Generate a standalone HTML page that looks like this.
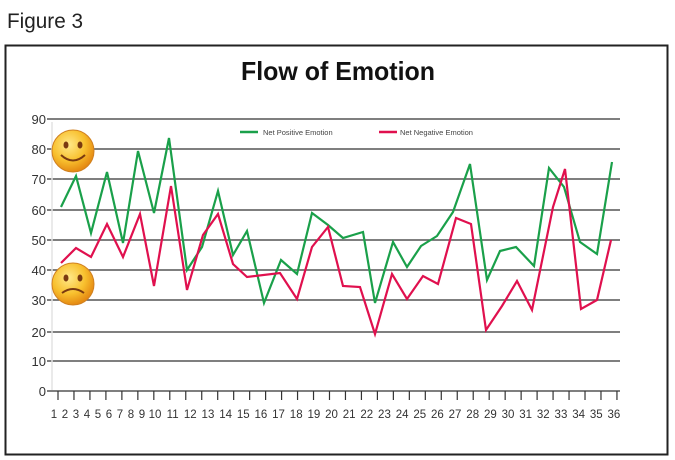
<!DOCTYPE html>
<html><head><meta charset="utf-8"><style>
html,body{margin:0;padding:0;background:#fff;width:675px;height:460px;overflow:hidden}
</style></head><body>
<svg width="675" height="460" xmlns="http://www.w3.org/2000/svg" font-family="Liberation Sans, DejaVu Sans, sans-serif">
<defs>
<radialGradient id="sm" cx="40%" cy="35%" r="65%"><stop offset="0" stop-color="#ffe98a"/><stop offset="0.6" stop-color="#f8c02e"/><stop offset="1" stop-color="#e58a12"/></radialGradient>
</defs>
<text x="7" y="28" font-size="21" fill="#222" textLength="76" lengthAdjust="spacingAndGlyphs">Figure 3</text>
<rect x="5.5" y="45.5" width="662" height="409" fill="none" stroke="#222" stroke-width="2"/>
<text x="241" y="80" font-size="26" font-weight="bold" fill="#111" textLength="194" lengthAdjust="spacingAndGlyphs">Flow of Emotion</text>
<g stroke="#555" stroke-width="1.5">
<line x1="47" y1="119" x2="620" y2="119"/>
<line x1="47" y1="149" x2="620" y2="149"/>
<line x1="47" y1="179" x2="620" y2="179"/>
<line x1="47" y1="210" x2="620" y2="210"/>
<line x1="47" y1="240" x2="620" y2="240"/>
<line x1="47" y1="270" x2="620" y2="270"/>
<line x1="47" y1="300" x2="620" y2="300"/>
<line x1="47" y1="332" x2="620" y2="332"/>
<line x1="47" y1="361" x2="620" y2="361"/>
<line x1="47" y1="391" x2="620" y2="391"/>
</g>
<line x1="52" y1="122" x2="52" y2="390" stroke="#e4e4e4" stroke-width="1.5"/>
<g font-size="13" fill="#333" text-anchor="end">
<text x="46" y="124">90</text><text x="46" y="154">80</text><text x="46" y="184">70</text>
<text x="46" y="215">60</text><text x="46" y="245">50</text><text x="46" y="275">40</text>
<text x="46" y="305">30</text><text x="46" y="337">20</text><text x="46" y="366">10</text>
<text x="46" y="396">0</text>
</g>
<g id="ticks" stroke="#333" stroke-width="1.2"></g>
<g id="lbl" font-size="11.5" fill="#333" text-anchor="middle"></g>
<polyline fill="none" stroke="#1aa04a" stroke-width="2.2" stroke-linejoin="miter" points="61,207 76,176 91,233 107,172 123,243 138,151 154,213 169,138 187,270 202,247 218,191 233,255 247,231 264,303 281,260 297,274 312,213 328,225 343,238 363,232 375,303 393,242 407,267 421,246 437,236 453,212 470,164 487,280 500,251 516,247 534,266 549,168 564,187 580,242 597,254 612,162"/>
<polyline fill="none" stroke="#e0104e" stroke-width="2.2" points="61,263 76,248 91,257 107,224 123,257 140,214 154,286 171,186 187,290 203,235 218,214 233,264 247,277 280,273 297,299 312,247 328,227 343,286 360,287 375,334 392,274 407,299 423,276 438,284 456,218 471,224 486,330 502,306 517,281 532,310 553,207 565,169 581,309 597,300 611,240"/>
<line x1="240" y1="132" x2="258" y2="132" stroke="#1aa04a" stroke-width="2.5"/>
<text x="263" y="135" font-size="7.5" fill="#444">Net Positive Emotion</text>
<line x1="379" y1="132" x2="397" y2="132" stroke="#e0104e" stroke-width="2.5"/>
<text x="400" y="135" font-size="7.5" fill="#444">Net Negative Emotion</text>
<g>
<circle cx="73" cy="151" r="21" fill="url(#sm)" stroke="#d08020" stroke-width="1"/>
<ellipse cx="66" cy="145" rx="2.5" ry="3.5" fill="#7a3a10"/><ellipse cx="80" cy="145" rx="2.5" ry="3.5" fill="#7a3a10"/>
<path d="M61 155 Q73 166 85 155" fill="none" stroke="#7a3a10" stroke-width="2"/>
<circle cx="73" cy="284" r="21" fill="url(#sm)" stroke="#d08020" stroke-width="1"/>
<ellipse cx="66" cy="278" rx="2.5" ry="3.5" fill="#7a3a10"/><ellipse cx="80" cy="278" rx="2.5" ry="3.5" fill="#7a3a10"/>
<path d="M62 293 Q73 285 84 293" fill="none" stroke="#7a3a10" stroke-width="2"/>
</g>
</svg>
<script>
var ns="http://www.w3.org/2000/svg",t=document.getElementById("ticks"),l=document.getElementById("lbl");
for(var i=0;i<36;i++){var x=58+i*15.97;var e=document.createElementNS(ns,"line");e.setAttribute("x1",x);e.setAttribute("x2",x);e.setAttribute("y1",391);e.setAttribute("y2",400);t.appendChild(e);
var n=i+1,lx=n<10?54+(n-1)*11:155+(n-10)*17.65;var tx=document.createElementNS(ns,"text");tx.setAttribute("x",lx);tx.setAttribute("y",418);tx.textContent=n;l.appendChild(tx);}
</script>
</body></html>
